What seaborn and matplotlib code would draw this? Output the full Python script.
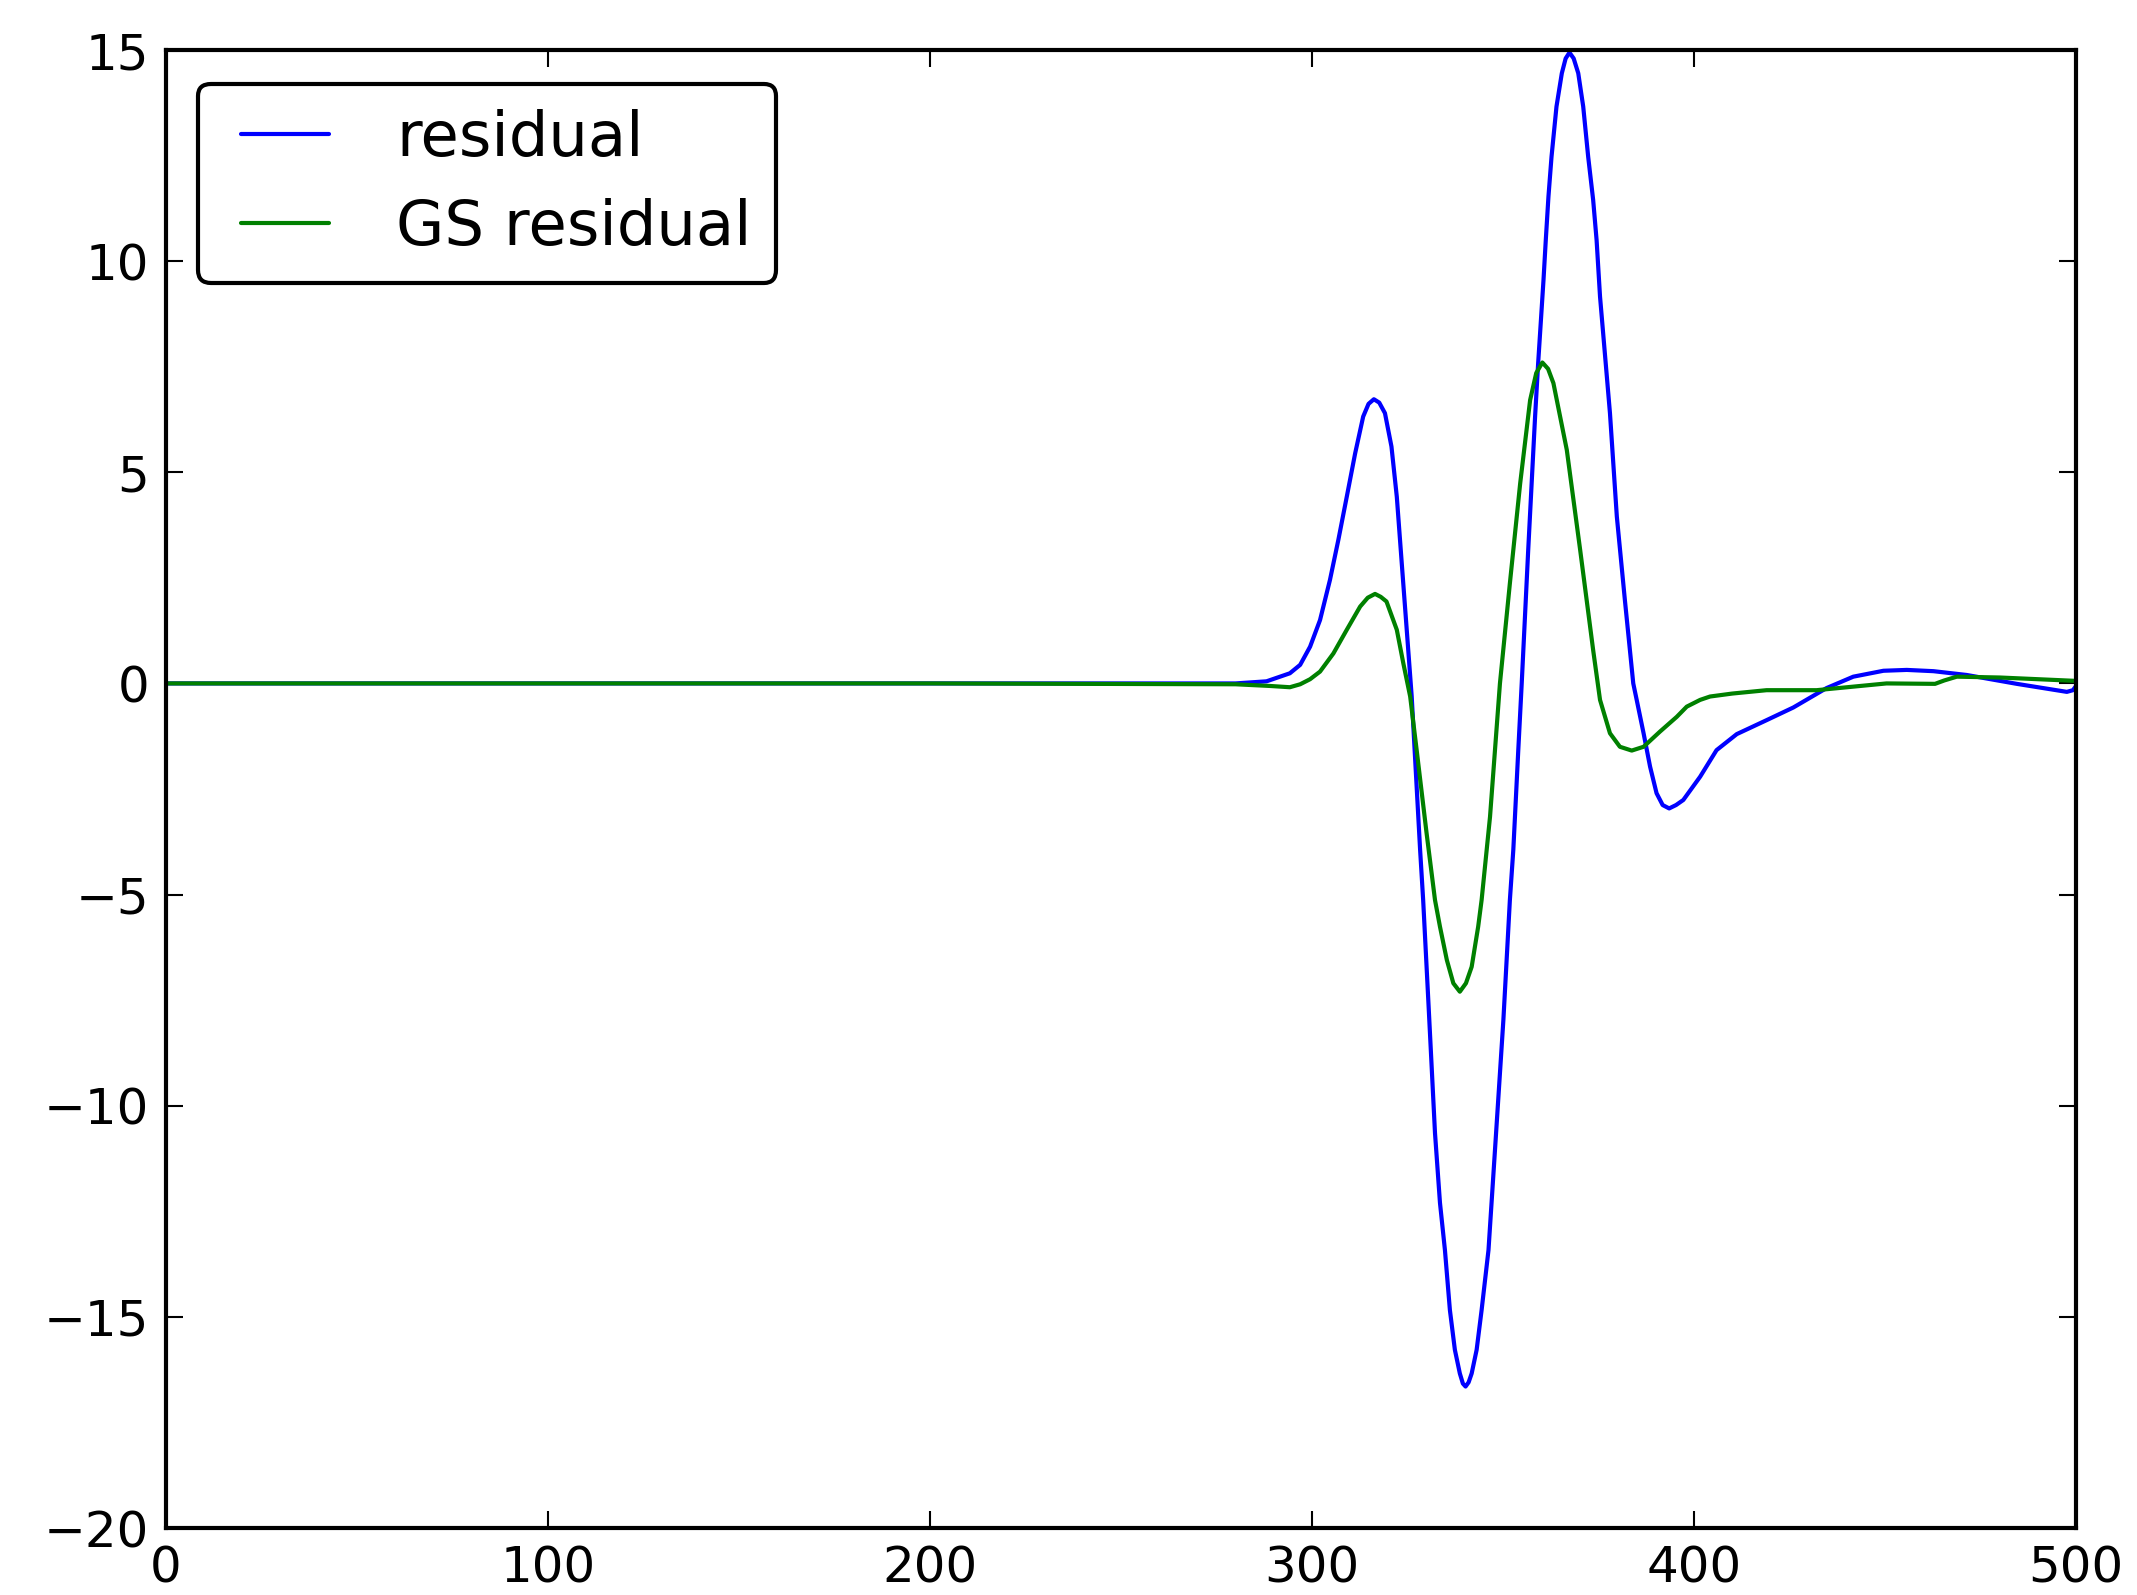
import matplotlib
matplotlib.use("Agg")
import matplotlib.pyplot as plt
from matplotlib.lines import Line2D
from matplotlib.legend_handler import HandlerLine2D
import seaborn as sns
import pandas as pd

# residual curve
res_x = [0, 100, 200, 280, 288.1, 294.2, 296.9, 299.5, 302.1, 304.7, 306.9, 309.1, 311.3, 313.4,
         314.8, 316.2, 317.6, 319.1, 320.8, 322.2, 323.5, 324.8, 326.1, 328.3, 329.1, 330.5,
         332.2, 333.5, 334.8, 336.1, 337.4, 338.7, 339.5, 340.2, 341.0, 341.8, 343.1, 344.4,
         346.2, 347.9, 350.1, 351.8, 352.7, 354.0, 354.9, 356.6, 358.4, 359.2, 360.6, 361.2,
         361.9, 362.7, 364.0, 365.4, 366.4, 367.4, 368.5, 369.7, 371.0, 372.3, 373.6, 374.5,
         375.4, 378.0, 379.8, 381.9, 384.1, 385.0, 386.8, 388.5, 390.2, 391.8, 393.5, 395.3,
         397.2, 401.6, 405.9, 411.2, 419.0, 426.0, 434.7, 441.7, 449.6, 455.7, 462.7, 471.4,
         484.5, 497.6, 499.2, 500]
res_y = [0, 0, 0, 0, 0.05, 0.24, 0.44, 0.87, 1.50, 2.45, 3.40, 4.42, 5.45, 6.32,
         6.62, 6.73, 6.65, 6.40, 5.61, 4.42, 2.84, 1.27, -0.31, -3.94, -5.13, -7.6,
         -10.65, -12.3, -13.42, -14.84, -15.78, -16.34, -16.58, -16.65, -16.55, -16.34, -15.78, -14.84,
         -13.42, -11.05, -7.97, -5.13, -3.94, -1.58, 0.0, 3.16, 6.32, 7.58, 9.55, 10.50,
         11.53, 12.47, 13.66, 14.45, 14.8, 14.94, 14.8, 14.45, 13.66, 12.47, 11.45, 10.50,
         9.16, 6.40, 3.95, 1.98, 0.0, -0.39, -1.18, -1.97, -2.60, -2.88, -2.96, -2.88,
         -2.76, -2.21, -1.58, -1.2, -0.87, -0.57, -0.11, 0.16, 0.30, 0.32, 0.29, 0.20,
         -0.01, -0.20, -0.16, -0.06]

# Gauss-Seidel residual curve
gs_x = [0, 200, 280, 289, 294.2, 296.9, 299.5, 302.1, 305.6, 309.1, 312.6, 314.6, 316.5, 318.0,
        319.5, 322.2, 323.9, 325.7, 327.4, 330.0, 332.2, 333.5, 335.3, 337.0, 338.7, 340.3,
        341.8, 343.5, 344.4, 346.6, 349.2, 351.8, 354.5, 357.1, 358.7, 360.3, 361.8, 363.2,
        366.7, 370.2, 373.6, 375.4, 378.0, 380.6, 383.7, 386.8, 391.1, 395.5, 398.1, 401.6,
        404.2, 410.0, 419.0, 432.1, 450.4, 463.1, 465.5, 468.8, 480.1, 500]
gs_y = [0, 0, -0.02, -0.06, -0.09, -0.02, 0.1, 0.28, 0.71, 1.27, 1.82, 2.03, 2.12, 2.05,
        1.94, 1.27, 0.48, -0.31, -1.58, -3.55, -5.13, -5.76, -6.55, -7.1, -7.30, -7.1,
        -6.71, -5.76, -5.13, -3.16, 0.0, 2.37, 4.74, 6.71, 7.35, 7.60, 7.45, 7.11,
        5.53, 3.16, 0.79, -0.39, -1.18, -1.50, -1.59, -1.50, -1.14, -0.79, -0.55, -0.39,
        -0.31, -0.24, -0.16, -0.16, 0.0, -0.01, 0.07, 0.16, 0.14, 0.06]

df = pd.concat([
    pd.DataFrame({"x": res_x, "y": res_y, "series": "residual"}),
    pd.DataFrame({"x": gs_x, "y": gs_y, "series": "GS residual"}),
])

sns.set_theme(style="white")
plt.rcParams.update({
    "font.family": ["DejaVu Sans"],
    "text.color": "black",
    "axes.edgecolor": "black",
    "axes.linewidth": 1.0,
    "xtick.direction": "in",
    "ytick.direction": "in",
    "xtick.top": True,
    "ytick.right": True,
    "xtick.bottom": True,
    "ytick.left": True,
    "xtick.major.size": 4,
    "ytick.major.size": 4,
    "xtick.major.width": 0.5,
    "ytick.major.width": 0.5,
    "xtick.color": "black",
    "ytick.color": "black",
    "xtick.labelsize": 12,
    "ytick.labelsize": 12,
    "axes.unicode_minus": True,
})

fig = plt.figure(figsize=(2137 / 300, 1595 / 300), dpi=300)
ax = fig.add_axes([166 / 2137, 67 / 1595, 1910 / 2137, 1478 / 1595])

sns.lineplot(data=df, x="x", y="y", hue="series", palette={"residual": "blue", "GS residual": "green"},
             estimator=None, sort=False, linewidth=1.0, ax=ax)

ax.set_xlim(0, 500)
ax.set_ylim(-20, 15)
ax.set_xticks([0, 100, 200, 300, 400, 500])
ax.set_yticks([-20, -15, -10, -5, 0, 5, 10, 15])
ax.set_xlabel("")
ax.set_ylabel("")
ax.tick_params(pad=4)
for s in ax.spines.values():
    s.set_visible(True)
    s.set_color("black")

leg = ax.legend(loc="upper left", bbox_to_anchor=(0.017, 0.977), borderaxespad=0,
                fontsize=15, handlelength=1.69, handletextpad=1.07, labelspacing=0.46,
                borderpad=0.4, fancybox=True, frameon=True,
                handler_map={Line2D: HandlerLine2D(xpad=0.275)})
leg.get_frame().set_edgecolor("black")
leg.get_frame().set_linewidth(1.0)
leg.get_frame().set_alpha(1)
for t in leg.get_texts():
    t.set_color("black")

fig.savefig("out.png", dpi=300)
